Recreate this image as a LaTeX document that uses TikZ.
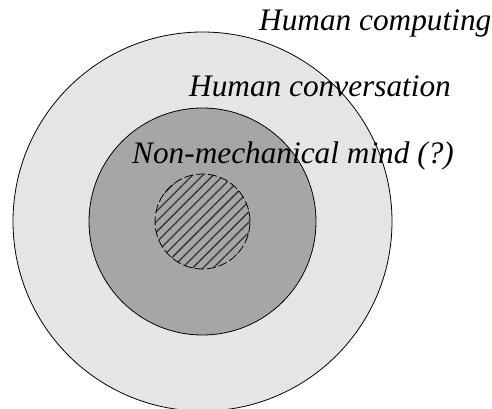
\documentclass[tikz,border=0pt]{standalone}
\usepackage{fontspec}
\setmainfont{Liberation Serif}
\usetikzlibrary{patterns.meta}
\definecolor{outerfill}{HTML}{E5E5E5}
\definecolor{midfill}{HTML}{A6A6A6}
\definecolor{hatch}{HTML}{333333}
\begin{document}
\begin{tikzpicture}[x=1pt,y=-1pt,
  ring/.style={draw=black,line width=0.8pt},
  lbl/.style={anchor=base west,inner sep=0pt,font=\fontsize{31.3}{34}\selectfont\itshape}]
\useasboundingbox (0,0) rectangle (492,409);
\node[ring,circle,fill=outerfill,minimum size=379pt,inner sep=0pt] (outer) at (202.5,221.5) {};
\node[ring,circle,fill=midfill,minimum size=227pt,inner sep=0pt] (middle) at (202.5,221.5) {};
\node[circle,draw=black,line width=0.8pt,dash pattern=on 9pt off 3pt,
  pattern={Lines[angle=45,distance=7.3pt,line width=1.3pt]},pattern color=hatch,
  minimum size=95pt,inner sep=0pt] (inner) at (202.5,221.5) {};
\node[lbl] (hc) at (259,30.5) {Human computing};
\node[lbl] (hconv) at (189,96) {Human conversation};
\node[lbl] (nm) at (132,163.5) {Non-mechanical mind (?)};
\end{tikzpicture}
\end{document}
